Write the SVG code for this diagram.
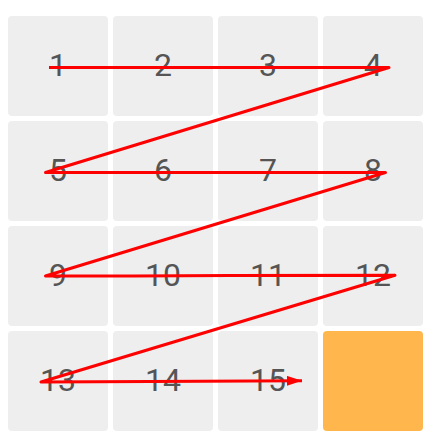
<svg xmlns="http://www.w3.org/2000/svg" width="431" height="446" viewBox="0 0 431 446">
<style>
.t{fill:#eeeeee}
.o{fill:#ffb74d}
.n{font-family:Roboto,"Liberation Sans",sans-serif;font-size:32px;fill:#555555;text-anchor:middle}
.c{fill:none;stroke:#ff0000;stroke-width:3;stroke-linejoin:round;stroke-linecap:butt}
</style>
<defs>
<marker id="ah" markerUnits="userSpaceOnUse" markerWidth="16" markerHeight="10" refX="15" refY="5" orient="auto">
<path d="M0,0 L15,5 L0,10 Z" fill="#ff0000"/>
</marker>
</defs>
<rect width="431" height="446" fill="#ffffff"/>
<g id="tile1"><rect class="t" x="8" y="16" width="100" height="100" rx="4"/><text class="n" x="58" y="76">1</text></g>
<g id="tile2"><rect class="t" x="113" y="16" width="100" height="100" rx="4"/><text class="n" x="163" y="76">2</text></g>
<g id="tile3"><rect class="t" x="218" y="16" width="100" height="100" rx="4"/><text class="n" x="268" y="76">3</text></g>
<g id="tile4"><rect class="t" x="323" y="16" width="100" height="100" rx="4"/><text class="n" x="373" y="76">4</text></g>
<g id="tile5"><rect class="t" x="8" y="121" width="100" height="100" rx="4"/><text class="n" x="58" y="181">5</text></g>
<g id="tile6"><rect class="t" x="113" y="121" width="100" height="100" rx="4"/><text class="n" x="163" y="181">6</text></g>
<g id="tile7"><rect class="t" x="218" y="121" width="100" height="100" rx="4"/><text class="n" x="268" y="181">7</text></g>
<g id="tile8"><rect class="t" x="323" y="121" width="100" height="100" rx="4"/><text class="n" x="373" y="181">8</text></g>
<g id="tile9"><rect class="t" x="8" y="226" width="100" height="100" rx="4"/><text class="n" x="58" y="286">9</text></g>
<g id="tile10"><rect class="t" x="113" y="226" width="100" height="100" rx="4"/><text class="n" x="163" y="286">10</text></g>
<g id="tile11"><rect class="t" x="218" y="226" width="100" height="100" rx="4"/><text class="n" x="268" y="286">11</text></g>
<g id="tile12"><rect class="t" x="323" y="226" width="100" height="100" rx="4"/><text class="n" x="373" y="286">12</text></g>
<g id="tile13"><rect class="t" x="8" y="331" width="100" height="100" rx="4"/><text class="n" x="58" y="391">13</text></g>
<g id="tile14"><rect class="t" x="113" y="331" width="100" height="100" rx="4"/><text class="n" x="163" y="391">14</text></g>
<g id="tile15"><rect class="t" x="218" y="331" width="100" height="100" rx="4"/><text class="n" x="268" y="391">15</text></g>
<g id="empty"><rect class="o" x="323" y="331" width="100" height="100" rx="4"/></g>
<g id="connectors">
<path class="c" marker-end="url(#ah)" d="M49,67.5 L389,67.5 L45.5,172.5 L385.5,172.5 L45.5,276 L133,276 L230,275.5 L395,275.3 L41,382 L150,381.5 L302,380.8"/>
</g>
</svg>
